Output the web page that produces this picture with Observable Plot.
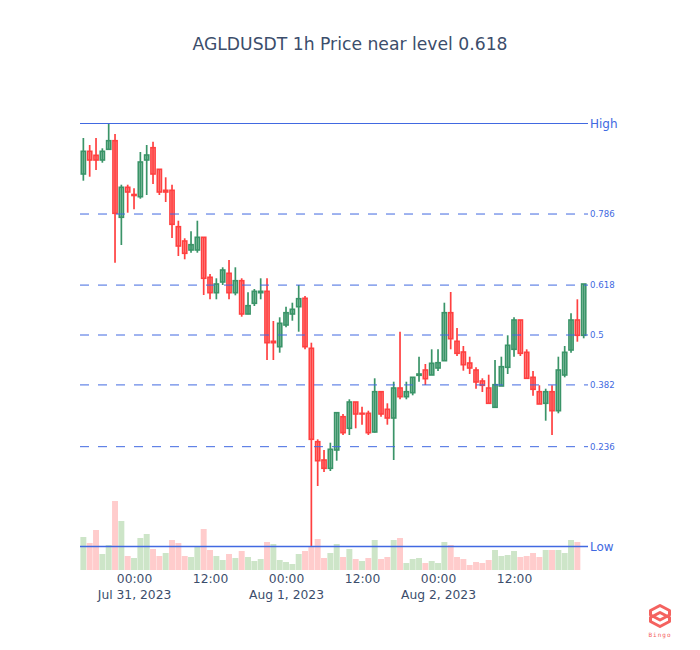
<!DOCTYPE html>
<html><head><meta charset="utf-8">
<script src="https://cdn.jsdelivr.net/npm/d3@7"></script>
<script src="https://cdn.jsdelivr.net/npm/@observablehq/plot@0.6"></script>
<style>
html,body{margin:0;padding:0;background:#fff}
#wrap{position:relative;width:700px;height:650px;font-family:"DejaVu Sans",sans-serif}
#title{position:absolute;left:0;top:33px;width:700px;text-align:center;font-size:17.2px;line-height:22px;color:#3b4d6b}
#logo{position:absolute;left:640px;top:600px}
#wrap svg.plot{display:block}
</style></head><body>
<div id="wrap"><div id="title">AGLDUSDT 1h Price near level 0.618</div><div id="chart"></div>
<svg id="logo" width="40" height="40" viewBox="0 0 40 40">
<g fill="none" stroke="#f4625f" stroke-width="3" stroke-linejoin="round">
<path d="M20 5.5 L29.5 10.5 L29.5 15 L20 20 L10.5 15 L10.5 10.5 Z"/>
<path d="M20 12.5 L29.5 17.5 L29.5 21.5 L20 26.5 L10.5 21.5 L10.5 17.5 Z"/>
</g>
<text x="20" y="36.5" text-anchor="middle" font-size="6" letter-spacing="1" fill="#f4625f" font-family="DejaVu Sans Mono">Bingo</text>
</svg></div>
<script>
const firstCandle = Date.UTC(2023, 6, 30, 16);
const hour = 3600000;
const highs = [1.109,1.102,1.109,1.0987,1.1235,1.113,1.0623,1.0623,1.0587,1.095,1.102,1.1053,1.0777,1.0697,1.0623,1.0263,1.0087,1.0157,1.0263,1.0097,0.973,0.9687,0.9797,0.987,0.9797,0.9687,0.9547,0.958,0.9687,0.9687,0.926,0.9297,0.9403,0.9443,0.962,0.951,0.9043,0.8077,0.797,0.8043,0.8343,0.833,0.8477,0.845,0.8403,0.8363,0.8687,0.8553,0.8437,0.8653,0.9153,0.8653,0.8697,0.8903,0.883,0.8977,0.8977,0.9443,0.955,0.919,0.901,0.8903,0.8797,0.8687,0.8723,0.887,0.8903,0.9117,0.9297,0.927,0.8977,0.876,0.8617,0.8583,0.8617,0.8903,0.901,0.9337,0.9477,0.963];
const opens = [1.073,1.0957,1.0917,1.087,1.0977,1.1063,1.0297,1.0597,1.0525,1.0503,1.087,1.0993,1.0777,1.0567,1.0567,1.0203,1.006,0.997,0.997,1.0097,0.9697,0.9543,0.965,0.9737,0.9543,0.9663,0.933,0.9437,0.9543,0.9557,0.9057,0.9003,0.922,0.933,0.9403,0.9487,0.8987,0.8053,0.787,0.7787,0.797,0.8303,0.8187,0.845,0.8337,0.8337,0.815,0.8553,0.8377,0.829,0.859,0.8503,0.8543,0.8717,0.877,0.872,0.879,0.8863,0.9343,0.9057,0.895,0.884,0.877,0.866,0.859,0.8397,0.861,0.8797,0.8977,0.927,0.8947,0.8697,0.8553,0.8437,0.8553,0.8363,0.872,0.897,0.927,0.9117];
const closes = [1.0957,1.087,1.087,1.0957,1.1063,1.0337,1.0597,1.055,1.0515,1.085,1.092,1.073,1.055,1.055,1.0227,1.001,0.9937,1.0023,1.0097,0.9687,0.9543,0.963,0.977,0.9543,0.9663,0.933,0.9413,0.9557,0.9557,0.9043,0.9043,0.9237,0.9343,0.9377,0.9483,0.9003,0.8077,0.7863,0.7787,0.7977,0.8343,0.8143,0.845,0.833,0.833,0.8143,0.8553,0.833,0.829,0.859,0.8503,0.8553,0.8697,0.873,0.8683,0.8837,0.8843,0.9343,0.9083,0.8937,0.8823,0.879,0.865,0.8617,0.8437,0.8623,0.8803,0.9017,0.927,0.8937,0.8687,0.8577,0.843,0.8553,0.8363,0.877,0.8947,0.927,0.9117,0.963];
const lows = [1.0663,1.0703,1.077,1.0843,1.0977,0.9843,1.002,1.0343,1.0377,1.0483,1.052,1.063,1.052,1.045,1.009,0.991,0.9877,0.9943,0.9943,0.952,0.9477,0.9477,0.962,0.9477,0.9517,0.9303,0.9327,0.941,0.9477,0.887,0.887,0.8943,0.9197,0.9263,0.9153,0.8977,0.7005,0.761,0.775,0.776,0.7863,0.812,0.812,0.8187,0.8223,0.812,0.8143,0.8303,0.8223,0.787,0.8477,0.8477,0.8517,0.8653,0.862,0.872,0.876,0.8863,0.8977,0.891,0.8763,0.873,0.8583,0.855,0.8437,0.8397,0.861,0.873,0.8903,0.891,0.8687,0.8513,0.843,0.8263,0.812,0.8337,0.8697,0.8943,0.9053,0.9087];
const volumes = [33,27,40,16,25,69,49,14,12,32,36,21,14,17,30,27,14,13,23,41,20,14,10,16,12,19,13,9,11,28,26,10,8,6,16,19,23,31,12,17,26,13,21,11,9,12,30,11,13,30,32,7,11,12,7,9,7,28,25,13,11,5,8,7,10,20,14,15,19,13,14,17,13,20,20,20,17,30,28];
const volumeSides = "gppggpgpgggppgpppggppggpgpgggpgggggppppggpgpgpgppgpgggpgggpppppppggggppppgpgggp".split("");
const levels = [1, 0.786, 0.618, 0.5, 0.382, 0.236, 0];
const levelLabels = ["High","0.786","0.618","0.5","0.382","0.236","Low"];
const tickTimes = [Date.UTC(2023,6,31,0),Date.UTC(2023,6,31,12),Date.UTC(2023,7,1,0),Date.UTC(2023,7,1,12),Date.UTC(2023,7,2,0),Date.UTC(2023,7,2,12)];
const tickLabels = ["00:00\nJul 31, 2023","12:00","00:00\nAug 1, 2023","12:00","00:00\nAug 2, 2023","12:00"];

const high = 1.1235, low = 0.7005, volumeBase = 0.677, volumeUnit = 0.001;
const green = "#3a9468", red = "#ff4040", blue = "#4169e1";
const candles = opens.map((o,i)=>({t:new Date(firstCandle+i*hour),t1:new Date(firstCandle+(i-0.33)*hour),t2:new Date(firstCandle+(i+0.33)*hour),
  open:o,close:closes[i],high:highs[i],low:lows[i],color:closes[i]>=o?green:red}));
const bars = volumes.map((v,i)=>({t1:new Date(firstCandle+(i-0.47)*hour),t2:new Date(firstCandle+(i+0.47)*hour),y1:volumeBase,y2:volumeBase+v*volumeUnit,fill:volumeSides[i]==="g"?"#cde5c8":"#ffcccc"}));
const xDomain=[new Date(tickTimes[0]-8.53*hour),new Date(tickTimes[0]+71.68*hour)];
const lv = levels.map((l,i)=>({y:low+l*(high-low),label:levelLabels[i],level:l,big:l===0||l===1}));

const plot = Plot.plot({
  width:700,height:650,marginLeft:80,marginRight:112,marginTop:123.5,marginBottom:80,
  style:{fontFamily:'"DejaVu Sans",sans-serif',background:"#fff",overflow:"visible"},
  x:{type:"utc",domain:xDomain,label:null},
  y:{domain:[volumeBase,high],axis:null,label:null},
  color:{type:"identity"},
  marks:[
    Plot.rect(bars,{x1:"t1",x2:"t2",y1:"y1",y2:"y2",fill:d=>d.fill}),
    Plot.ruleX(candles,{x:"t",y1:"low",y2:"high",stroke:d=>d.color,strokeWidth:1.7,dx:-0.5}),
    Plot.rect(candles,{x1:"t1",x2:"t2",y1:"open",y2:"close",fill:d=>d.color,fillOpacity:0.45,stroke:d=>d.color,strokeWidth:1.6}),
    Plot.ruleY(lv.filter(d=>d.level===1),{y:"y",x1:xDomain[0],x2:xDomain[1],stroke:blue,strokeWidth:1,dy:-0.5}),
    Plot.ruleY(lv.filter(d=>d.level===0),{y:"y",x1:xDomain[0],x2:xDomain[1],stroke:blue,strokeWidth:1.4,dy:-0.5}),
    Plot.ruleY(lv.filter(d=>!d.big),{y:"y",x1:xDomain[0],x2:xDomain[1],stroke:blue,strokeWidth:1,strokeDasharray:"9,9",dy:-0.5}),
    Plot.text(lv,{x:xDomain[1],y:"y",text:"label",textAnchor:"start",dx:1.5,fill:blue,fontSize:d=>d.big?12:8.6}),
    Plot.axisX({ticks:tickTimes.map(t=>new Date(t)),tickFormat:d=>tickLabels[tickTimes.indexOf(+d)],tickSize:0,tickPadding:1,fontSize:12.3,lineHeight:1.3,fill:"#3b4d6b",label:null,textAnchor:"middle"})
  ]
});
document.getElementById("chart").appendChild(plot);
</script>
</body></html>
